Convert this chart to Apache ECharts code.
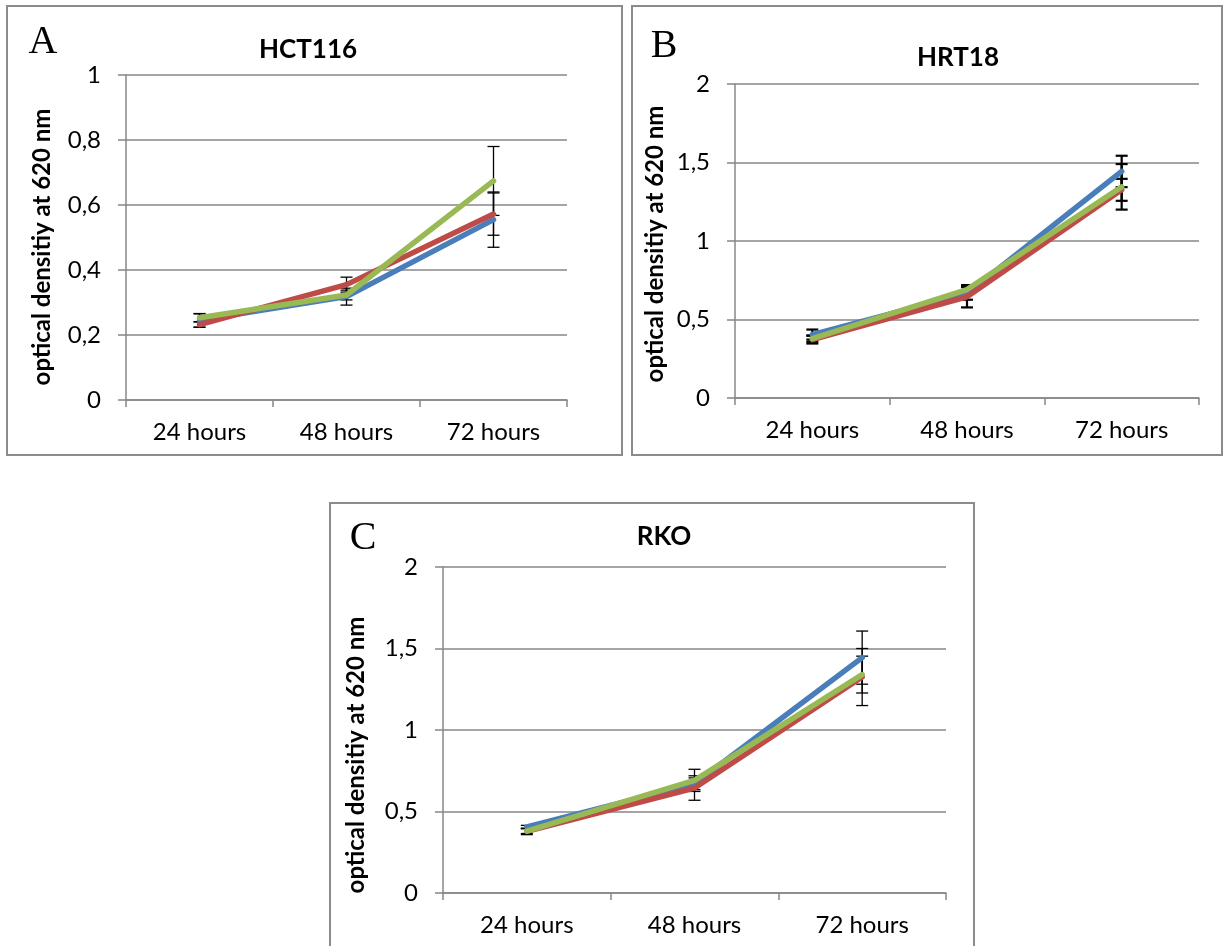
<!DOCTYPE html>
<html>
<head>
<meta charset="utf-8">
<title>Optical density over time</title>
<script src="https://cdn.jsdelivr.net/npm/echarts@6/dist/echarts.min.js"></script>
<style>
  html, body { margin: 0; padding: 0; background: #fff; }
  #chart { width: 1229px; height: 946px; }
</style>
</head>
<body>
<div id="chart"></div>
<script>
// Time points shared by all three cell lines
const categories = ['24 hours', '48 hours', '72 hours'];

// HCT116 means and error bar half-lengths
const hctBlue = [0.245, 0.318, 0.555];
const hctBlueErr = [0.021, 0.026, 0.085];
const hctRed = [0.232, 0.355, 0.572];
const hctRedErr = [0.008, 0.023, 0.065];
const hctGreen = [0.253, 0.323, 0.674];
const hctGreenErr = [0.012, 0.015, 0.106];

// HRT18
const hrtBlue = [0.404, 0.666, 1.443];
const hrtBlueErr = [0.032, 0.040, 0.100];
const hrtRed = [0.372, 0.645, 1.326];
const hrtRedErr = [0.025, 0.068, 0.070];
const hrtGreen = [0.378, 0.691, 1.345];
const hrtGreenErr = [0.020, 0.028, 0.145];

// RKO
const rkoBlue = [0.405, 0.670, 1.444];
const rkoBlueErr = [0.010, 0.036, 0.163];
const rkoRed = [0.378, 0.644, 1.325];
const rkoRedErr = [0.020, 0.075, 0.175];
const rkoGreen = [0.380, 0.691, 1.340];
const rkoGreenErr = [0.015, 0.068, 0.113];

// Axis ranges and tick steps
const hctAxis = { max: 1, interval: 0.2 };
const hrtAxis = { max: 2, interval: 0.5 };
const rkoAxis = { max: 2, interval: 0.5 };

const titles = ['HCT116', 'HRT18', 'RKO'];
const letters = ['A', 'B', 'C'];
const yName = 'optical densitiy at 620 nm';

const BLUE = '#4A7EBB', RED = '#BE4B48', GREEN = '#98B954';
const GRAY = '#878787';
const FONT = 'Lato, "Open Sans", sans-serif';

const panels = [
  { grid: { left: 126, top: 75, width: 441, height: 325 }, axis: hctAxis,
    series: [[hctBlue, hctBlueErr, BLUE], [hctRed, hctRedErr, RED], [hctGreen, hctGreenErr, GREEN]],
    frame: [7, 6, 615, 449], title: [308, 50], letter: [43, 42], name: [42, 247], errWidth: 1.3 },
  { grid: { left: 735, top: 84, width: 464, height: 314 }, axis: hrtAxis,
    series: [[hrtBlue, hrtBlueErr, BLUE], [hrtRed, hrtRedErr, RED], [hrtGreen, hrtGreenErr, GREEN]],
    frame: [632, 6, 590, 449], title: [958, 58], letter: [664, 46], name: [655, 244], errWidth: 2.2 },
  { grid: { left: 443, top: 567, width: 503, height: 326 }, axis: rkoAxis,
    series: [[rkoBlue, rkoBlueErr, BLUE], [rkoRed, rkoRedErr, RED], [rkoGreen, rkoGreenErr, GREEN]],
    frame: [330, 503, 644, 460], title: [664, 537], letter: [363, 538], name: [356, 755], errWidth: 1.3 }
];

function makeErrRender(lw) {
  return function (params, api) {
    const x = api.value(0), v = api.value(1), e = api.value(2);
    const top = api.coord([x, v + e]);
    const bot = api.coord([x, v - e]);
    const hw = 6;
    const st = { stroke: '#000', lineWidth: lw };
    return {
      type: 'group',
      children: [
        { type: 'line', shape: { x1: top[0], y1: top[1], x2: bot[0], y2: bot[1] }, style: st },
        { type: 'line', shape: { x1: top[0] - hw, y1: top[1], x2: top[0] + hw, y2: top[1] }, style: st },
        { type: 'line', shape: { x1: bot[0] - hw, y1: bot[1], x2: bot[0] + hw, y2: bot[1] }, style: st }
      ]
    };
  };
}

const grids = [], xAxes = [], yAxes = [], series = [], graphics = [];

panels.forEach((p, i) => {
  grids.push(p.grid);
  xAxes.push({
    type: 'category', gridIndex: i, data: categories, boundaryGap: true,
    axisLine: { lineStyle: { color: GRAY, width: 1.5 } },
    axisTick: { show: true, length: 7, lineStyle: { color: GRAY, width: 1.5 } },
    axisLabel: { color: '#000', fontFamily: FONT, fontSize: 24, margin: 20 },
    splitLine: { show: false }
  });
  yAxes.push({
    type: 'value', gridIndex: i, min: 0, max: p.axis.max, interval: p.axis.interval,
    axisLine: { show: true, lineStyle: { color: GRAY, width: 1.5 } },
    axisTick: { show: true, length: 8, lineStyle: { color: GRAY, width: 1.5 } },
    axisLabel: {
      color: '#000', fontFamily: FONT, fontSize: 24, margin: 25,
      formatter: v => String(Number(v.toFixed(2))).replace('.', ',')
    },
    splitLine: { show: true, lineStyle: { color: GRAY, width: 1.5 } }
  });

  p.series.forEach(([vals, errs, color]) => {
    series.push({
      type: 'custom', xAxisIndex: i, yAxisIndex: i, z: 2,
      renderItem: makeErrRender(p.errWidth),
      encode: { x: 0, y: 1 },
      data: vals.map((v, k) => [k, v, errs[k]]),
      silent: true
    });
  });
  p.series.forEach(([vals, errs, color]) => {
    series.push({
      type: 'line', xAxisIndex: i, yAxisIndex: i, z: 3,
      data: vals, symbol: 'none', smooth: false,
      lineStyle: { color: color, width: 5.5, join: 'round', cap: 'round' },
      itemStyle: { color: color }
    });
  });

  const f = p.frame;
  graphics.push({
    type: 'rect', shape: { x: f[0], y: f[1], width: f[2], height: f[3] },
    style: { fill: 'none', stroke: '#8c8c8c', lineWidth: 2 }, z: 0
  });
  graphics.push({
    type: 'text', x: p.title[0], y: p.title[1],
    style: { text: titles[i], fill: '#000', font: 'bold 26px ' + FONT, align: 'center', verticalAlign: 'middle' }
  });
  graphics.push({
    type: 'text', x: p.letter[0], y: p.letter[1],
    style: { text: letters[i], fill: '#000', font: '40px "Liberation Serif", "DejaVu Serif", serif', align: 'center', verticalAlign: 'middle' }
  });
  graphics.push({
    type: 'text', x: p.name[0], y: p.name[1], rotation: Math.PI / 2,
    style: { text: yName, fill: '#000', font: 'bold 24px ' + FONT, align: 'center', verticalAlign: 'middle' }
  });
});

const chart = echarts.init(document.getElementById('chart'), null, { renderer: 'canvas' });
chart.setOption({
  animation: false,
  backgroundColor: '#fff',
  grid: grids,
  xAxis: xAxes,
  yAxis: yAxes,
  series: series,
  graphic: graphics
});
</script>
</body>
</html>
